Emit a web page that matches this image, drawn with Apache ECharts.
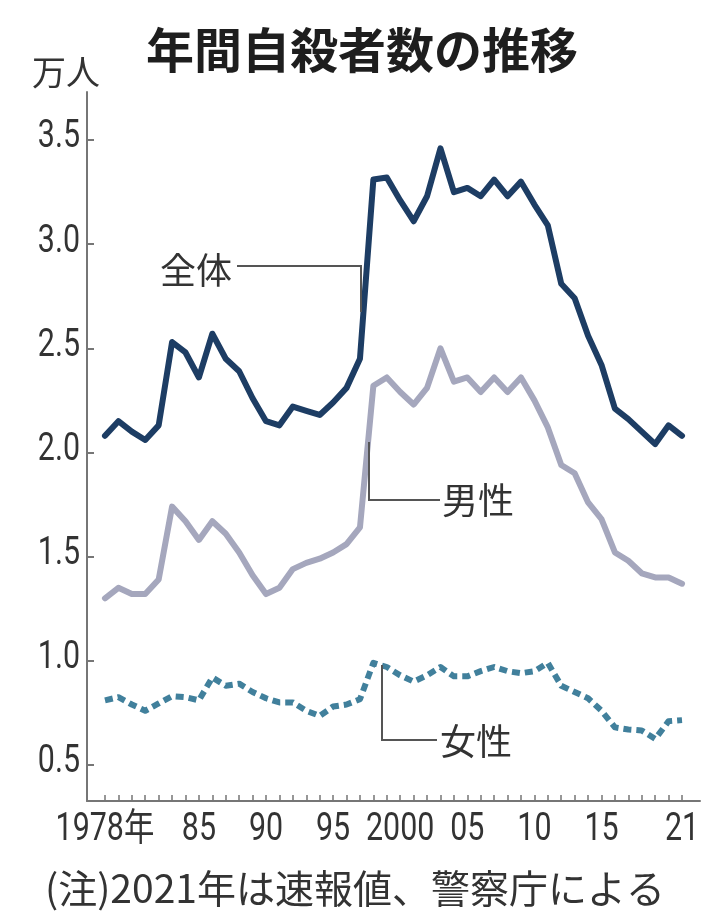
<!DOCTYPE html>
<html lang="ja">
<head>
<meta charset="utf-8">
<title>年間自殺者数の推移</title>
<script src="https://cdn.jsdelivr.net/npm/echarts@6/dist/echarts.min.js"></script>
<style>
  html, body { margin: 0; padding: 0; background: #ffffff; }
  #chart { width: 724px; height: 917px; }
</style>
</head>
<body>
<div id="chart"></div>
<script>
// Annual suicides in Japan, unit: 10,000 people (万人)
const years = [1978, 1979, 1980, 1981, 1982, 1983, 1984, 1985, 1986, 1987,
               1988, 1989, 1990, 1991, 1992, 1993, 1994, 1995, 1996, 1997,
               1998, 1999, 2000, 2001, 2002, 2003, 2004, 2005, 2006, 2007,
               2008, 2009, 2010, 2011, 2012, 2013, 2014, 2015, 2016, 2017,
               2018, 2019, 2020, 2021];

const totalValues = [2.08, 2.15, 2.10, 2.06, 2.13, 2.53, 2.48, 2.36, 2.57, 2.45,
                     2.39, 2.26, 2.15, 2.13, 2.22, 2.20, 2.18, 2.24, 2.31, 2.45,
                     3.31, 3.32, 3.21, 3.11, 3.23, 3.46, 3.25, 3.27, 3.23, 3.31,
                     3.23, 3.30, 3.19, 3.09, 2.81, 2.74, 2.56, 2.42, 2.21, 2.16,
                     2.10, 2.04, 2.13, 2.08];

const maleValues = [1.30, 1.35, 1.32, 1.32, 1.39, 1.74, 1.67, 1.58, 1.67, 1.61,
                    1.52, 1.41, 1.32, 1.35, 1.44, 1.47, 1.49, 1.52, 1.56, 1.64,
                    2.32, 2.36, 2.29, 2.23, 2.31, 2.50, 2.34, 2.36, 2.29, 2.36,
                    2.29, 2.36, 2.25, 2.12, 1.94, 1.90, 1.76, 1.68, 1.52, 1.48,
                    1.42, 1.40, 1.40, 1.37];

const femaleValues = [0.81, 0.825, 0.79, 0.76, 0.795, 0.83, 0.825, 0.81, 0.92, 0.88,
                      0.89, 0.85, 0.82, 0.80, 0.80, 0.76, 0.735, 0.78, 0.79, 0.815,
                      0.99, 0.97, 0.93, 0.90, 0.93, 0.97, 0.925, 0.925, 0.95, 0.97,
                      0.95, 0.94, 0.95, 0.99, 0.88, 0.85, 0.82, 0.76, 0.68, 0.67,
                      0.665, 0.625, 0.71, 0.715];

const yTickValues = [0.5, 1.0, 1.5, 2.0, 2.5, 3.0, 3.5];
const xLabelYears = [1978, 1985, 1990, 1995, 2000, 2005, 2010, 2015, 2021];
const xLabelTexts = ['1978年', '85', '90', '95', '2000', '05', '10', '15', '21'];

const seriesNames = ['全体', '男性', '女性'];

const NUM_FONT = 'Roboto, "Noto Sans CJK JP", sans-serif';
const CJK_FONT = '"Noto Sans CJK JP", "Noto Sans", sans-serif';
const AXIS_GREY = '#767676';
const TEXT_DARK = '#333333';
const NUM_SQUEEZE = 0.8;   // condensed look for the axis numerals

const X_MIN = 1976.66, X_MAX = 2022.34;
const Y_MIN = 0.3267, Y_MAX = 3.7304;

const pairs = vals => years.map((y, i) => [y, vals[i]]);

const chart = echarts.init(document.getElementById('chart'), null, { renderer: 'canvas', width: 724, height: 917 });

chart.setOption({
  animation: false,
  backgroundColor: '#ffffff',
  grid: { left: 87, right: 24, top: 92, bottom: 116, containLabel: false },
  xAxis: {
    type: 'value',
    min: X_MIN,
    max: X_MAX,
    axisLine: { show: true, lineStyle: { color: AXIS_GREY, width: 2 } },
    axisTick: {
      show: true, inside: true, length: 6,
      customValues: years,
      lineStyle: { color: AXIS_GREY, width: 1.5 }
    },
    axisLabel: { show: false },
    splitLine: { show: false }
  },
  yAxis: {
    type: 'value',
    min: Y_MIN,
    max: Y_MAX,
    axisLine: { show: true, lineStyle: { color: AXIS_GREY, width: 2 } },
    axisTick: {
      show: true, inside: true, length: 7,
      customValues: yTickValues,
      lineStyle: { color: AXIS_GREY, width: 2 }
    },
    axisLabel: { show: false },
    splitLine: { show: false }
  },
  series: [
    {
      name: seriesNames[2], type: 'line', data: pairs(femaleValues), symbol: 'none', z: 2,
      lineStyle: { color: '#41809c', width: 6, type: [8, 5], cap: 'butt', join: 'round' }
    },
    {
      name: seriesNames[1], type: 'line', data: pairs(maleValues), symbol: 'none', z: 3,
      lineStyle: { color: '#a5a7bd', width: 6, cap: 'round', join: 'round' }
    },
    {
      name: seriesNames[0], type: 'line', data: pairs(totalValues), symbol: 'none', z: 4,
      lineStyle: { color: '#1d3d64', width: 6, cap: 'round', join: 'round' }
    }
  ]
});

// Axis numerals: placed through the axis scales, drawn horizontally condensed
const axisLabelGraphics = [];
xLabelYears.forEach((yr, i) => {
  const p = chart.convertToPixel({ gridIndex: 0 }, [yr, Y_MIN]);
  axisLabelGraphics.push({
    type: 'text', x: p[0], y: p[1] + 10, scaleX: NUM_SQUEEZE, z: 10,
    style: { text: xLabelTexts[i], font: '38px ' + NUM_FONT, fill: TEXT_DARK,
             textAlign: 'center', textVerticalAlign: 'top' }
  });
});
yTickValues.forEach(v => {
  const p = chart.convertToPixel({ gridIndex: 0 }, [X_MIN, v]);
  axisLabelGraphics.push({
    type: 'text', x: p[0] - 7, y: p[1] - 2, scaleX: NUM_SQUEEZE, z: 10,
    style: { text: v.toFixed(1), font: '38px ' + NUM_FONT, fill: TEXT_DARK,
             textAlign: 'right', textVerticalAlign: 'middle' }
  });
});

chart.setOption({
  graphic: [
    // title and unit
    { type: 'text', left: 'center', top: 26, z: 10,
      style: { text: '年間自殺者数の推移', font: 'bold 48px ' + CJK_FONT, fill: '#1e1e1e' } },
    { type: 'text', x: 32, y: 72, z: 10,
      style: { text: '万人', font: '34px ' + CJK_FONT, fill: TEXT_DARK, textVerticalAlign: 'middle' } },

    // series callouts
    { type: 'polyline', z: 10, shape: { points: [[237, 266], [361, 266], [361, 312]] },
      style: { stroke: '#555555', lineWidth: 2, fill: null } },
    { type: 'text', x: 160, y: 270, z: 10,
      style: { text: seriesNames[0], font: '36px ' + CJK_FONT, fill: TEXT_DARK, textVerticalAlign: 'middle' } },

    { type: 'polyline', z: 10, shape: { points: [[369, 442], [369, 500], [440, 500]] },
      style: { stroke: '#555555', lineWidth: 2, fill: null } },
    { type: 'text', x: 442, y: 500, z: 10,
      style: { text: seriesNames[1], font: '36px ' + CJK_FONT, fill: TEXT_DARK, textVerticalAlign: 'middle' } },

    { type: 'polyline', z: 10, shape: { points: [[382, 665], [382, 740], [437, 740]] },
      style: { stroke: '#555555', lineWidth: 2, fill: null } },
    { type: 'text', x: 440, y: 741, z: 10,
      style: { text: seriesNames[2], font: '36px ' + CJK_FONT, fill: TEXT_DARK, textVerticalAlign: 'middle' } },

    // source note
    { type: 'text', x: 45, y: 888, z: 10,
      style: { text: '(注)2021年は速報値、警察庁による', font: '39px ' + CJK_FONT, fill: TEXT_DARK, textVerticalAlign: 'middle' } }
  ].concat(axisLabelGraphics)
});
</script>
</body>
</html>
